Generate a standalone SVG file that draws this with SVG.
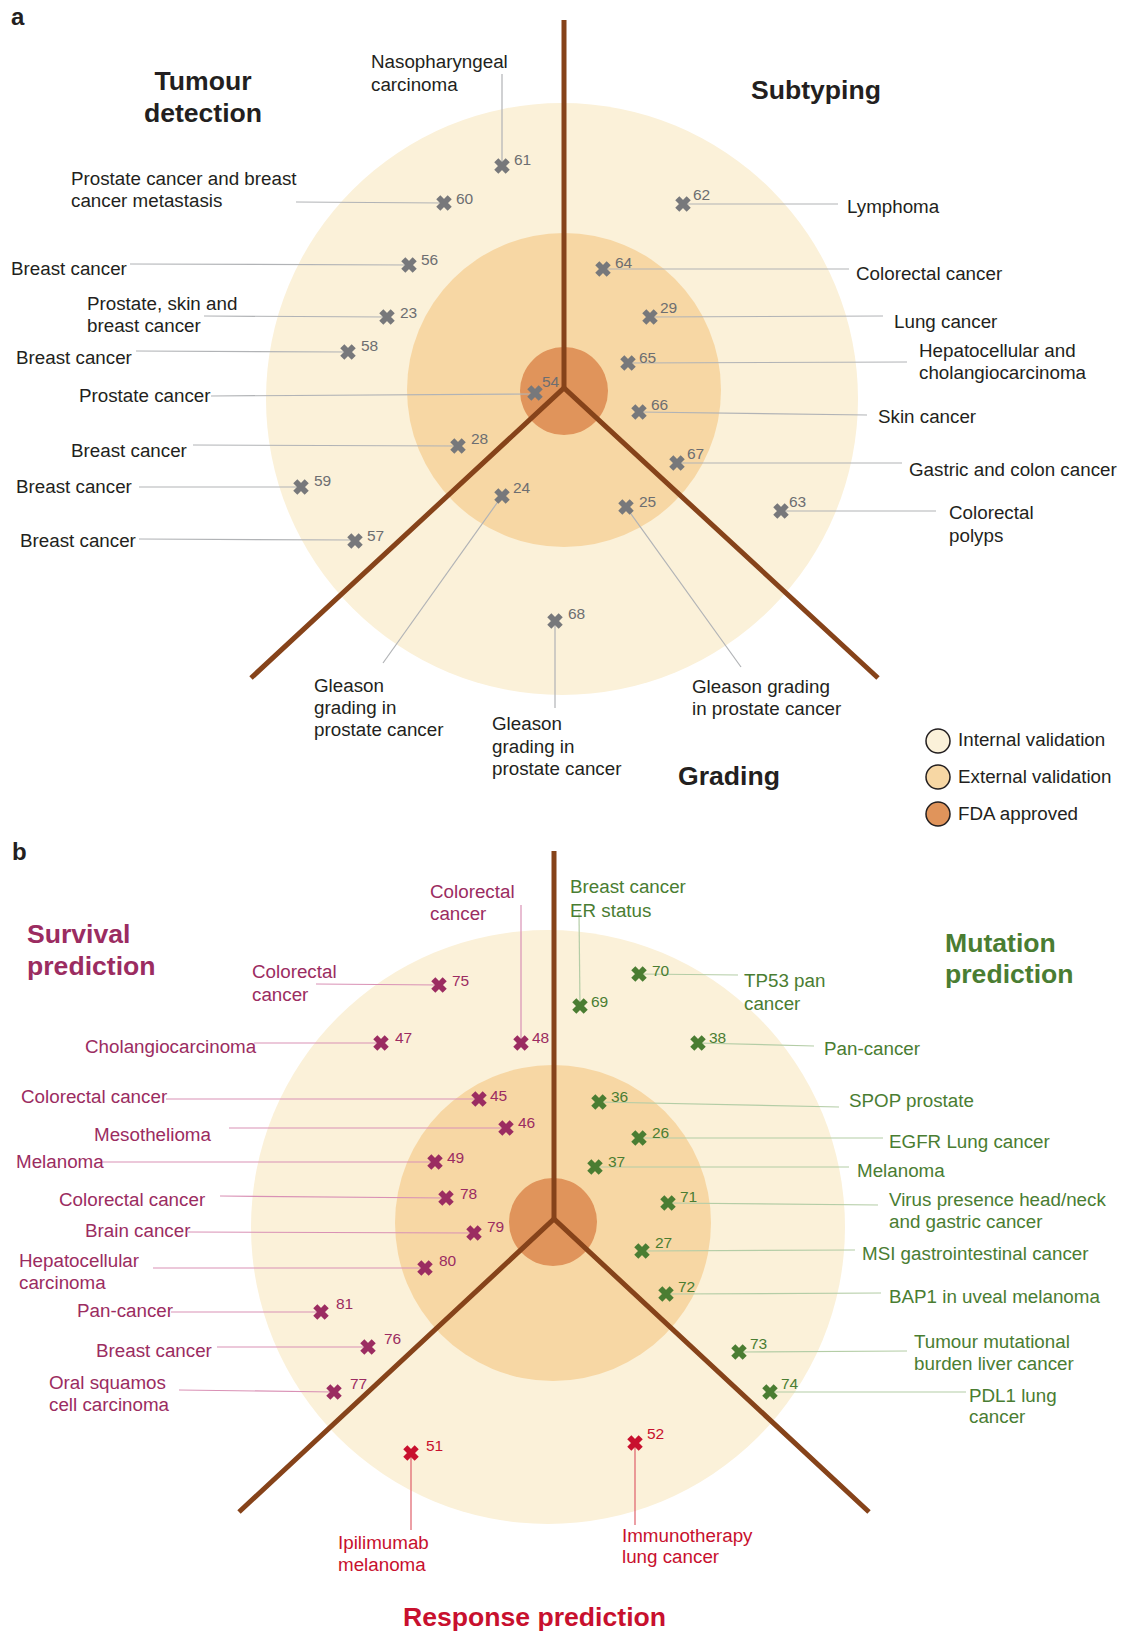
<svg xmlns="http://www.w3.org/2000/svg" xmlns:xlink="http://www.w3.org/1999/xlink" width="1121" height="1631" viewBox="0 0 1121 1631">
<style>
text{font-family:"Liberation Sans",Arial,sans-serif}
.lb{font-size:18.8px;fill:#231F20}
.nm{font-size:15.5px;fill:#6D6E71}
.tt{font-size:26.6px;font-weight:bold;fill:#231F20}
.pl{font-size:24px;font-weight:bold;fill:#231F20}
.ring1{fill:#FBF1D9}
.ring2{fill:#F7D7A4}
.ring3{fill:#E0945B}
.axis{stroke:#86431A;stroke-width:5;fill:none;stroke-linecap:butt}
.ldA{stroke:#B1B3B6;stroke-width:1.2;fill:none}
.ldS{stroke:#D991B5;stroke-width:1.2;fill:none}
.ldM{stroke:#B4CDA6;stroke-width:1.2;fill:none}
.ldR{stroke:#E0606A;stroke-width:1.2;fill:none}
.mA{stroke:#77787B}
.mS{stroke:#9B2C61}
.mM{stroke:#4A7D32}
.mR{stroke:#C8102E}
.lS{font-size:18.8px;fill:#9B2C61}
.lM{font-size:18.8px;fill:#4A7D32}
.lR{font-size:18.8px;fill:#C8102E}
.nS{font-size:15.5px;fill:#9B2C61}
.nM{font-size:15.5px;fill:#4A7D32}
.nR{font-size:15.5px;fill:#C8102E}
.tS{font-size:26.6px;font-weight:bold;fill:#9B2C61}
.tM{font-size:26.6px;font-weight:bold;fill:#4A7D32}
.tR{font-size:26.6px;font-weight:bold;fill:#C8102E}
.leg{stroke:#231F20;stroke-width:1.5}
</style>
<defs>
<path id="xm" d="M-5.7,-5.7L5.7,5.7M5.7,-5.7L-5.7,5.7" stroke-width="5.8" fill="none"/>
</defs>
<rect width="1121" height="1631" fill="#FFFFFF"/>

<!-- ================= PANEL A ================= -->
<text class="pl" x="11" y="25">a</text>
<g id="a-rings">
<circle class="ring1" cx="562" cy="399" r="296"/>
<circle class="ring2" cx="564" cy="390" r="157"/>
<circle class="ring3" cx="564" cy="391" r="44"/>
</g>

<g id="a-connectors">
<line class="ldA" x1="502" y1="74" x2="502" y2="166"/>
<line class="ldA" x1="296" y1="202" x2="444" y2="203"/>
<line class="ldA" x1="130" y1="264" x2="409" y2="265"/>
<line class="ldA" x1="204" y1="316" x2="387" y2="317"/>
<line class="ldA" x1="136" y1="351" x2="348" y2="352"/>
<line class="ldA" x1="211" y1="396" x2="535" y2="394"/>
<line class="ldA" x1="193" y1="445" x2="458" y2="446"/>
<line class="ldA" x1="139" y1="487" x2="301" y2="487"/>
<line class="ldA" x1="139" y1="539" x2="355" y2="540"/>
<line class="ldA" x1="502" y1="496" x2="383" y2="663"/>
<line class="ldA" x1="555" y1="621" x2="555" y2="708"/>
<line class="ldA" x1="626" y1="507" x2="741" y2="667"/>
<line class="ldA" x1="683" y1="204" x2="838" y2="204"/>
<line class="ldA" x1="603" y1="269" x2="849" y2="269"/>
<line class="ldA" x1="650" y1="317" x2="883" y2="316"/>
<line class="ldA" x1="628" y1="363" x2="907" y2="362"/>
<line class="ldA" x1="639" y1="412" x2="867" y2="415"/>
<line class="ldA" x1="677" y1="463" x2="902" y2="463"/>
<line class="ldA" x1="781" y1="511" x2="936" y2="511"/>
</g>

<g id="a-axes">
<line class="axis" x1="564" y1="20" x2="564" y2="388"/>
<polyline class="axis" points="251,678 564,388 878,678" stroke-linejoin="miter"/>
</g>

<g id="a-titles">
<text class="tt" x="203" y="90" text-anchor="middle">Tumour</text>
<text class="tt" x="203" y="122" text-anchor="middle">detection</text>
<text class="tt" x="751" y="99">Subtyping</text>
<text class="tt" x="678" y="785">Grading</text>
</g>

<g id="a-n61"><use href="#xm" x="502" y="166" class="mA"/><text class="nm" x="514" y="165">61</text>
<text class="lb" x="371" y="68">Nasopharyngeal</text><text class="lb" x="371" y="91">carcinoma</text></g>
<g id="a-n60"><use href="#xm" x="444" y="203" class="mA"/><text class="nm" x="456" y="204">60</text>
<text class="lb" x="71" y="185">Prostate cancer and breast</text><text class="lb" x="71" y="207">cancer metastasis</text></g>
<g id="a-n56"><use href="#xm" x="409" y="265" class="mA"/><text class="nm" x="421" y="265">56</text>
<text class="lb" x="11" y="275">Breast cancer</text></g>
<g id="a-n23"><use href="#xm" x="387" y="317" class="mA"/><text class="nm" x="400" y="318">23</text>
<text class="lb" x="87" y="310">Prostate, skin and</text><text class="lb" x="87" y="332">breast cancer</text></g>
<g id="a-n58"><use href="#xm" x="348" y="352" class="mA"/><text class="nm" x="361" y="351">58</text>
<text class="lb" x="16" y="364">Breast cancer</text></g>
<g id="a-n54"><use href="#xm" x="535" y="393" class="mA"/><text class="nm" x="542" y="387">54</text>
<text class="lb" x="79" y="402">Prostate cancer</text></g>
<g id="a-n28"><use href="#xm" x="458" y="446" class="mA"/><text class="nm" x="471" y="444">28</text>
<text class="lb" x="71" y="457">Breast cancer</text></g>
<g id="a-n59"><use href="#xm" x="301" y="487" class="mA"/><text class="nm" x="314" y="486">59</text>
<text class="lb" x="16" y="493">Breast cancer</text></g>
<g id="a-n57"><use href="#xm" x="355" y="541" class="mA"/><text class="nm" x="367" y="541">57</text>
<text class="lb" x="20" y="547">Breast cancer</text></g>
<g id="a-n24"><use href="#xm" x="502" y="496" class="mA"/><text class="nm" x="513" y="493">24</text>
<text class="lb" x="314" y="692">Gleason</text><text class="lb" x="314" y="714">grading in</text><text class="lb" x="314" y="736">prostate cancer</text></g>
<g id="a-n68"><use href="#xm" x="555" y="621" class="mA"/><text class="nm" x="568" y="619">68</text>
<text class="lb" x="492" y="730">Gleason</text><text class="lb" x="492" y="753">grading in</text><text class="lb" x="492" y="775">prostate cancer</text></g>
<g id="a-n25"><use href="#xm" x="626" y="507" class="mA"/><text class="nm" x="639" y="507">25</text>
<text class="lb" x="692" y="693">Gleason grading</text><text class="lb" x="692" y="715">in prostate cancer</text></g>
<g id="a-n62"><use href="#xm" x="683" y="204" class="mA"/><text class="nm" x="693" y="200">62</text>
<text class="lb" x="847" y="213">Lymphoma</text></g>
<g id="a-n64"><use href="#xm" x="603" y="269" class="mA"/><text class="nm" x="615" y="268">64</text>
<text class="lb" x="856" y="280">Colorectal cancer</text></g>
<g id="a-n29"><use href="#xm" x="650" y="317" class="mA"/><text class="nm" x="660" y="313">29</text>
<text class="lb" x="894" y="328">Lung cancer</text></g>
<g id="a-n65"><use href="#xm" x="628" y="363" class="mA"/><text class="nm" x="639" y="363">65</text>
<text class="lb" x="919" y="357">Hepatocellular and</text><text class="lb" x="919" y="379">cholangiocarcinoma</text></g>
<g id="a-n66"><use href="#xm" x="639" y="412" class="mA"/><text class="nm" x="651" y="410">66</text>
<text class="lb" x="878" y="423">Skin cancer</text></g>
<g id="a-n67"><use href="#xm" x="677" y="463" class="mA"/><text class="nm" x="687" y="459">67</text>
<text class="lb" x="909" y="476">Gastric and colon cancer</text></g>
<g id="a-n63"><use href="#xm" x="781" y="511" class="mA"/><text class="nm" x="789" y="507">63</text>
<text class="lb" x="949" y="519">Colorectal</text><text class="lb" x="949" y="542">polyps</text></g>

<g id="legend">
<circle class="ring1 leg" cx="938" cy="741" r="12"/>
<text class="lb" x="958" y="746">Internal validation</text>
<circle class="ring2 leg" cx="938" cy="777" r="12"/>
<text class="lb" x="958" y="783">External validation</text>
<circle class="ring3 leg" cx="938" cy="814" r="12"/>
<text class="lb" x="958" y="820">FDA approved</text>
</g>

<!-- ================= PANEL B ================= -->
<text class="pl" x="12" y="860">b</text>
<g id="b-rings">
<circle class="ring1" cx="548" cy="1227" r="297"/>
<circle class="ring2" cx="553" cy="1223" r="158"/>
<circle class="ring3" cx="553" cy="1222" r="44"/>
</g>

<g id="b-connectors">
<line class="ldS" x1="521" y1="905" x2="521" y2="1043"/>
<line class="ldS" x1="316" y1="984" x2="439" y2="985"/>
<line class="ldS" x1="254" y1="1043" x2="381" y2="1043"/>
<line class="ldS" x1="166" y1="1099" x2="479" y2="1099"/>
<line class="ldS" x1="229" y1="1128" x2="506" y2="1128"/>
<line class="ldS" x1="102" y1="1162" x2="435" y2="1162"/>
<line class="ldS" x1="220" y1="1196" x2="446" y2="1198"/>
<line class="ldS" x1="188" y1="1232" x2="474" y2="1233"/>
<line class="ldS" x1="153" y1="1268" x2="425" y2="1268"/>
<line class="ldS" x1="171" y1="1312" x2="321" y2="1312"/>
<line class="ldS" x1="217" y1="1347" x2="368" y2="1347"/>
<line class="ldS" x1="179" y1="1390" x2="334" y2="1392"/>
<line class="ldR" x1="411" y1="1453" x2="411" y2="1530"/>
<line class="ldR" x1="635" y1="1443" x2="635" y2="1525"/>
<line class="ldM" x1="579" y1="913" x2="580" y2="1006"/>
<line class="ldM" x1="639" y1="974" x2="738" y2="975"/>
<line class="ldM" x1="698" y1="1043" x2="814" y2="1046"/>
<line class="ldM" x1="599" y1="1102" x2="839" y2="1107"/>
<line class="ldM" x1="639" y1="1138" x2="883" y2="1138"/>
<line class="ldM" x1="595" y1="1167" x2="849" y2="1167"/>
<line class="ldM" x1="668" y1="1203" x2="878" y2="1205"/>
<line class="ldM" x1="642" y1="1251" x2="855" y2="1250"/>
<line class="ldM" x1="666" y1="1294" x2="881" y2="1293"/>
<line class="ldM" x1="739" y1="1352" x2="907" y2="1351"/>
<line class="ldM" x1="770" y1="1392" x2="966" y2="1392"/>
</g>

<g id="b-axes">
<line class="axis" x1="554" y1="851" x2="554" y2="1219"/>
<polyline class="axis" points="239,1512 554,1219 869,1512" stroke-linejoin="miter"/>
</g>

<g id="b-titles">
<text class="tS" x="27" y="943">Survival</text>
<text class="tS" x="27" y="975">prediction</text>
<text class="tM" x="945" y="952">Mutation</text>
<text class="tM" x="945" y="983">prediction</text>
<text class="tR" x="403" y="1626">Response prediction</text>
</g>

<g id="b-n48"><use href="#xm" x="521" y="1043" class="mS"/><text class="nS" x="532" y="1043">48</text>
<text class="lS" x="430" y="898">Colorectal</text><text class="lS" x="430" y="920">cancer</text></g>
<g id="b-n75"><use href="#xm" x="439" y="985" class="mS"/><text class="nS" x="452" y="986">75</text>
<text class="lS" x="252" y="978">Colorectal</text><text class="lS" x="252" y="1001">cancer</text></g>
<g id="b-n47"><use href="#xm" x="381" y="1043" class="mS"/><text class="nS" x="395" y="1043">47</text>
<text class="lS" x="85" y="1053">Cholangiocarcinoma</text></g>
<g id="b-n45"><use href="#xm" x="479" y="1099" class="mS"/><text class="nS" x="490" y="1101">45</text>
<text class="lS" x="21" y="1103">Colorectal cancer</text></g>
<g id="b-n46"><use href="#xm" x="506" y="1128" class="mS"/><text class="nS" x="518" y="1128">46</text>
<text class="lS" x="94" y="1141">Mesothelioma</text></g>
<g id="b-n49"><use href="#xm" x="435" y="1162" class="mS"/><text class="nS" x="447" y="1163">49</text>
<text class="lS" x="16" y="1168">Melanoma</text></g>
<g id="b-n78"><use href="#xm" x="446" y="1198" class="mS"/><text class="nS" x="460" y="1199">78</text>
<text class="lS" x="59" y="1206">Colorectal cancer</text></g>
<g id="b-n79"><use href="#xm" x="474" y="1233" class="mS"/><text class="nS" x="487" y="1232">79</text>
<text class="lS" x="85" y="1237">Brain cancer</text></g>
<g id="b-n80"><use href="#xm" x="425" y="1268" class="mS"/><text class="nS" x="439" y="1266">80</text>
<text class="lS" x="19" y="1267">Hepatocellular</text><text class="lS" x="19" y="1289">carcinoma</text></g>
<g id="b-n81"><use href="#xm" x="321" y="1312" class="mS"/><text class="nS" x="336" y="1309">81</text>
<text class="lS" x="77" y="1317">Pan-cancer</text></g>
<g id="b-n76"><use href="#xm" x="368" y="1347" class="mS"/><text class="nS" x="384" y="1344">76</text>
<text class="lS" x="96" y="1357">Breast cancer</text></g>
<g id="b-n77"><use href="#xm" x="334" y="1392" class="mS"/><text class="nS" x="350" y="1389">77</text>
<text class="lS" x="49" y="1389">Oral squamos</text><text class="lS" x="49" y="1411">cell carcinoma</text></g>
<g id="b-n51"><use href="#xm" x="411" y="1453" class="mR"/><text class="nR" x="426" y="1451">51</text>
<text class="lR" x="338" y="1549">Ipilimumab</text><text class="lR" x="338" y="1571">melanoma</text></g>
<g id="b-n52"><use href="#xm" x="635" y="1443" class="mR"/><text class="nR" x="647" y="1439">52</text>
<text class="lR" x="622" y="1542">Immunotherapy</text><text class="lR" x="622" y="1563">lung cancer</text></g>
<g id="b-n69"><use href="#xm" x="580" y="1006" class="mM"/><text class="nM" x="591" y="1007">69</text>
<text class="lM" x="570" y="893">Breast cancer</text><text class="lM" x="570" y="917">ER status</text></g>
<g id="b-n70"><use href="#xm" x="639" y="974" class="mM"/><text class="nM" x="652" y="976">70</text>
<text class="lM" x="744" y="987">TP53 pan</text><text class="lM" x="744" y="1010">cancer</text></g>
<g id="b-n38"><use href="#xm" x="698" y="1043" class="mM"/><text class="nM" x="709" y="1043">38</text>
<text class="lM" x="824" y="1055">Pan-cancer</text></g>
<g id="b-n36"><use href="#xm" x="599" y="1102" class="mM"/><text class="nM" x="611" y="1102">36</text>
<text class="lM" x="849" y="1107">SPOP prostate</text></g>
<g id="b-n26"><use href="#xm" x="639" y="1138" class="mM"/><text class="nM" x="652" y="1138">26</text>
<text class="lM" x="889" y="1148">EGFR Lung cancer</text></g>
<g id="b-n37"><use href="#xm" x="595" y="1167" class="mM"/><text class="nM" x="608" y="1167">37</text>
<text class="lM" x="857" y="1177">Melanoma</text></g>
<g id="b-n71"><use href="#xm" x="668" y="1203" class="mM"/><text class="nM" x="680" y="1202">71</text>
<text class="lM" x="889" y="1206">Virus presence head/neck</text><text class="lM" x="889" y="1228">and gastric cancer</text></g>
<g id="b-n27"><use href="#xm" x="642" y="1251" class="mM"/><text class="nM" x="655" y="1248">27</text>
<text class="lM" x="862" y="1260">MSI gastrointestinal cancer</text></g>
<g id="b-n72"><use href="#xm" x="666" y="1294" class="mM"/><text class="nM" x="678" y="1292">72</text>
<text class="lM" x="889" y="1303">BAP1 in uveal melanoma</text></g>
<g id="b-n73"><use href="#xm" x="739" y="1352" class="mM"/><text class="nM" x="750" y="1349">73</text>
<text class="lM" x="914" y="1348">Tumour mutational</text><text class="lM" x="914" y="1370">burden liver cancer</text></g>
<g id="b-n74"><use href="#xm" x="770" y="1392" class="mM"/><text class="nM" x="781" y="1389">74</text>
<text class="lM" x="969" y="1402">PDL1 lung</text><text class="lM" x="969" y="1423">cancer</text></g>
</svg>
